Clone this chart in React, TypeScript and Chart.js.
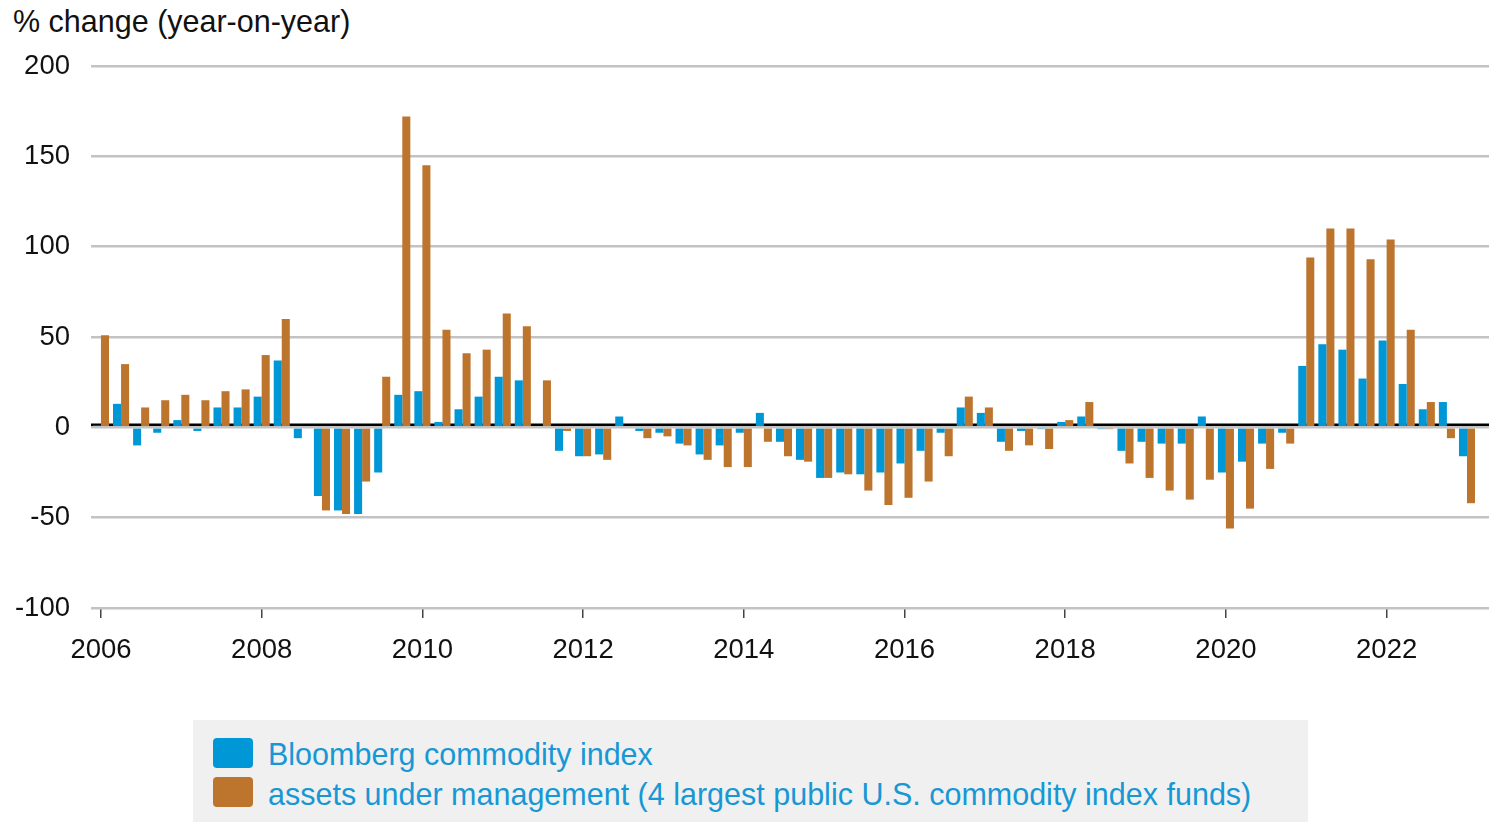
import React, { useEffect, useRef } from "react";
import { Chart, registerables } from "chart.js";

Chart.register(...registerables);

// Quarterly year-on-year % change, 2006 Q1 .. 2023 Q1
const startYear = 2006;
const bloombergIndex = [
  1, 13, -10, -3,
  4, -2, 11, 11,
  17, 37, -6, -38,
  -46, -48, -25, 18,
  20, 3, 10, 17,
  28, 26, 0, -13,
  -16, -15, 6, -2,
  -3, -9, -15, -10,
  -3, 8, -8, -18,
  -28, -25, -26, -25,
  -20, -13, -3, 11,
  8, -8, -2, -1,
  3, 6, -1, -13,
  -8, -9, -9, 6,
  -25, -19, -9, -3,
  34, 46, 43, 27,
  48, 24, 10, 14,
  -16,
];
const assetsUnderManagement = [
  51, 35, 11, 15,
  18, 15, 20, 21,
  40, 60, 0, -46,
  -48, -30, 28, 172,
  145, 54, 41, 43,
  63, 56, 26, -2,
  -16, -18, 0, -6,
  -5, -10, -18, -22,
  -22, -8, -16, -19,
  -28, -26, -35, -43,
  -39, -30, -16, 17,
  11, -13, -10, -12,
  4, 14, -1, -20,
  -28, -35, -40, -29,
  -56, -45, -23, -9,
  94, 110, 110, 93,
  104, 54, 14, -6,
  -42,
];
const yearTicks = [2006, 2008, 2010, 2012, 2014, 2016, 2018, 2020, 2022];
const yTicks = [-100, -50, 0, 50, 100, 150, 200];

const seriesLabels = [
  "Bloomberg commodity index",
  "assets under management (4 largest public U.S. commodity index funds)",
];
const titleText = "% change (year-on-year)";

const BLUE = "#0097d7";
const ORANGE = "#bd742d";
const FONT = '"Liberation Sans", Arial, Helvetica, sans-serif';

const zeroLinePlugin = {
  id: "zeroLine",
  beforeDatasetsDraw(chart: any) {
    const { ctx, chartArea, scales } = chart;
    const y0 = scales.y.getPixelForValue(0);
    ctx.save();
    ctx.strokeStyle = "#000";
    ctx.lineWidth = 2.7;
    ctx.beginPath();
    ctx.moveTo(chartArea.left, y0 - 2.6);
    ctx.lineTo(chartArea.right, y0 - 2.6);
    ctx.stroke();
    ctx.restore();
  },
};

export default function App() {
  const canvasRef = useRef<HTMLCanvasElement | null>(null);

  useEffect(() => {
    const canvas = canvasRef.current;
    if (!canvas) return;
    const xs = bloombergIndex.map((_, i) => startYear + i / 4);
    const chart = new Chart(canvas, {
      type: "bar",
      data: {
        datasets: [
          {
            label: seriesLabels[0],
            data: xs.map((x, i) => ({ x, y: bloombergIndex[i] })),
            backgroundColor: BLUE,
            borderWidth: 0,
            categoryPercentage: 0.8,
            barPercentage: 1.0,
          },
          {
            label: seriesLabels[1],
            data: xs.map((x, i) => ({ x, y: assetsUnderManagement[i] })),
            backgroundColor: ORANGE,
            borderWidth: 0,
            categoryPercentage: 0.8,
            barPercentage: 1.0,
          },
        ],
      },
      options: {
        animation: false,
        responsive: true,
        maintainAspectRatio: false,
        layout: { padding: { top: 66, left: 0, right: 0, bottom: 0 } },
        plugins: {
          legend: { display: false },
          title: { display: false },
          tooltip: { enabled: false },
        },
        scales: {
          x: {
            type: "linear",
            offset: false,
            min: 2005.876,
            max: 2023.274,
            afterBuildTicks: (scale: any) => {
              scale.ticks = yearTicks.map((v) => ({ value: v }));
            },
            afterFit: (scale: any) => {
              scale.height = 82;
            },
            grid: {
              offset: false,
              drawOnChartArea: false,
              drawTicks: true,
              tickLength: 10,
              color: "#444",
              lineWidth: 1.5,
            },
            border: { display: false },
            ticks: {
              autoSkip: false,
              maxRotation: 0,
              padding: 16,
              color: "#111",
              font: { family: FONT, size: 27.5 },
              callback: (v: any) => String(v),
            },
          },
          y: {
            type: "linear",
            min: -100,
            max: 200,
            afterBuildTicks: (scale: any) => {
              scale.ticks = yTicks.map((v) => ({ value: v }));
            },
            afterFit: (scale: any) => {
              scale.width = 91;
            },
            grid: {
              drawTicks: false,
              color: "#c3c3c3",
              lineWidth: 2.6,
            },
            border: { display: false },
            ticks: {
              padding: 21,
              color: "#111",
              font: { family: FONT, size: 27.5 },
              callback: (v: any) => String(v),
            },
          },
        },
      },
      plugins: [zeroLinePlugin],
    });
    return () => chart.destroy();
  }, []);

  return (
    <div
      style={{
        position: "absolute",
        left: 0,
        top: 0,
        width: 1489,
        height: 822,
        background: "#fff",
        fontFamily: FONT,
        overflow: "hidden",
      }}
    >
      <div
        style={{
          position: "absolute",
          left: 13,
          top: 4,
          fontSize: 30.5,
          lineHeight: "34px",
          color: "#111",
          whiteSpace: "nowrap",
        }}
      >
        {titleText}
      </div>
      <div style={{ position: "absolute", left: 0, top: 0, width: 1489, height: 690 }}>
        <canvas ref={canvasRef} />
      </div>
      <div
        style={{
          position: "absolute",
          left: 193,
          top: 720,
          width: 1115,
          height: 102,
          background: "#f0f0f0",
        }}
      >
        {seriesLabels.map((label, i) => (
          <React.Fragment key={label}>
            <div
              style={{
                position: "absolute",
                left: 20,
                top: 18 + i * 39,
                width: 40,
                height: 30,
                borderRadius: 4,
                background: i === 0 ? BLUE : ORANGE,
              }}
            />
            <div
              style={{
                position: "absolute",
                left: 75,
                top: 17.4 + i * 39.5,
                fontSize: 30.5,
                lineHeight: "34px",
                color: "#1798d5",
                whiteSpace: "nowrap",
              }}
            >
              {label}
            </div>
          </React.Fragment>
        ))}
      </div>
    </div>
  );
}
